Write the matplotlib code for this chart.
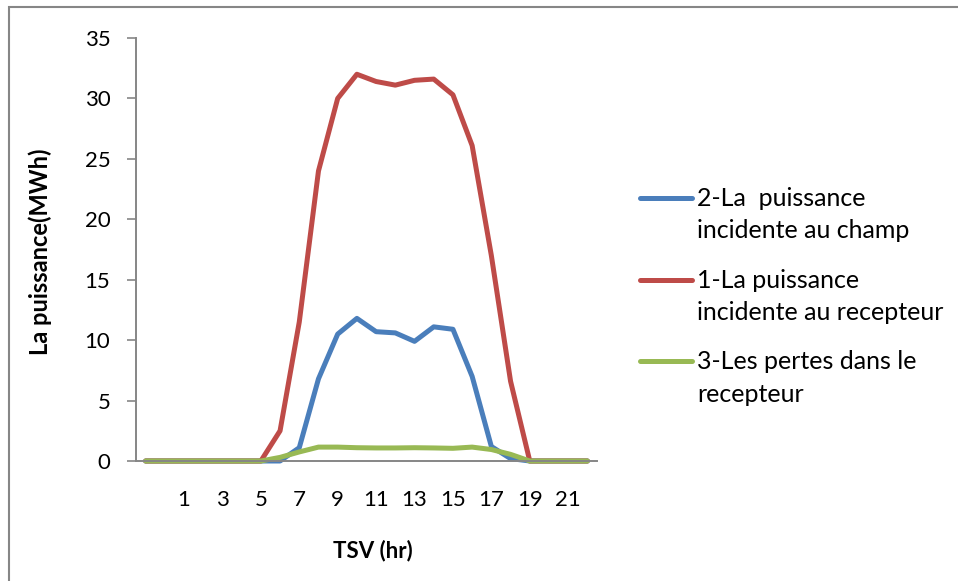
import matplotlib
matplotlib.use("Agg")
import matplotlib.pyplot as plt
from matplotlib.lines import Line2D
from matplotlib.patches import Rectangle

plt.rcParams["font.family"] = ["Lato", "DejaVu Sans"]

# TSV hours (first category sits one hour before 0)
hours = list(range(-1, 23))
champ = [0, 0, 0, 0, 0, 0, 0, 0,
         1.1, 6.8, 10.5, 11.8, 10.7, 10.6, 9.9, 11.1, 10.9, 7.0, 1.2, 0.2,
         0, 0, 0, 0]
recepteur = [0, 0, 0, 0, 0, 0, 0,
             2.5, 11.5, 24.0, 30.0, 32.0, 31.4, 31.1, 31.5, 31.6, 30.3, 26.1, 17.0, 6.6,
             0, 0, 0, 0]
pertes = [0, 0, 0, 0, 0, 0, 0,
          0.3, 0.75, 1.15, 1.15, 1.1, 1.08, 1.08, 1.1, 1.08, 1.05, 1.15, 0.95, 0.55,
          0, 0, 0, 0]

labels = ["2-La  puissance\nincidente au champ",
          "1-La puissance\nincidente au recepteur",
          "3-Les pertes dans le\nrecepteur"]
colors = ["#4A7EBB", "#BE4B48", "#98B954"]

W, H = 958, 581
fig = plt.figure(figsize=(W / 100, H / 100), dpi=100)
ax = fig.add_axes([136 / W, 1 - 461 / H, (597 - 136) / W, (461 - 38) / H])

x = list(range(len(hours)))
for ys, c in zip([champ, recepteur, pertes], colors):
    ax.plot(x, ys, color=c, linewidth=3.6, solid_capstyle="round",
            solid_joinstyle="round", clip_on=False)

ax.set_xlim(-0.5, len(hours) - 0.5)
ax.set_ylim(0, 35)
ax.set_yticks(range(0, 36, 5))
tick_idx = [i for i, h in enumerate(hours) if h % 2 == 1 and 1 <= h <= 21]
ax.set_xticks(tick_idx)
ax.set_xticklabels([str(hours[i]) for i in tick_idx])

grey = "#868686"
for s in ["top", "right"]:
    ax.spines[s].set_visible(False)
for s in ["left", "bottom"]:
    ax.spines[s].set_color(grey)
    ax.spines[s].set_linewidth(1.4)
ax.tick_params(axis="y", direction="out", length=6.5, width=1.2, color=grey,
               labelsize=16, pad=12)
ax.tick_params(axis="x", length=0, labelsize=16, pad=21)

fig.text(40 / W, 1 - 252 / H, "La puissance(MWh)", rotation=90, ha="center",
         va="center", fontsize=17, fontweight="bold")
fig.text(373 / W, 1 - 551 / H, "TSV (hr)", ha="center", va="center",
         fontsize=16, fontweight="bold")

# legend drawn by hand so the handle sits on the first text line
leg_y = [198, 280, 361]
for yy, lab, c in zip(leg_y, labels, colors):
    fig.add_artist(Line2D([640 / W, 692 / W], [1 - yy / H, 1 - yy / H],
                          color=c, linewidth=3.6, solid_capstyle="round"))
    fig.text(697 / W, 1 - (yy - 11) / H, lab, ha="left", va="top",
             fontsize=18, linespacing=1.5)

fig.add_artist(Rectangle((9 / W, -0.05), 1.1, 1.05 - 7 / H, fill=False,
                         edgecolor=grey, linewidth=1.5,
                         transform=fig.transFigure))

fig.savefig("out.png", dpi=100)
